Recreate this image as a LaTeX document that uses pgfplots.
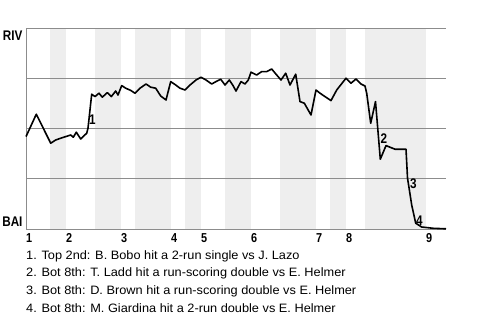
\documentclass[border=0pt]{standalone}
\usepackage{pgfplots}
\pgfplotsset{compat=1.18}
\usepackage{fontspec}
\setmainfont{Liberation Sans}[FakeStretch=1.05]
\newfontfamily\cb[FakeStretch=0.84]{Liberation Sans Bold}
\definecolor{band}{RGB}{238,238,238}
\definecolor{gridc}{RGB}{140,140,140}
\begin{document}
\begin{tikzpicture}[x=1bp,y=1bp]
\useasboundingbox (0,0) rectangle (480,320);
\begin{axis}[
  at={(26bp,91bp)}, anchor=south west,
  scale only axis, width=420bp, height=201bp,
  xmin=0, xmax=420, ymin=-0.5, ymax=100,
  axis line style={draw=none},
  major tick length=0pt,
  xtick={0,40,95,145,175,225,290,320,400},
  xticklabels={1,2,3,4,5,6,7,8,9},
  xticklabel style={anchor=north west, inner sep=0pt, yshift=-4.3bp, font=\cb\fontsize{13}{14}\selectfont},
  ytick={3.2,96.3},
  yticklabels={BAI,RIV},
  yticklabel style={anchor=east, inner sep=0pt, xshift=-3.3bp, font=\cb\fontsize{14}{15}\selectfont},
  clip=false,
]
% half-inning bands (bottom halves)
\addplot[draw=none, fill=band] coordinates {(24,-0.5)(40,-0.5)(40,100)(24,100)} -- cycle;
\addplot[draw=none, fill=band] coordinates {(69,-0.5)(95,-0.5)(95,100)(69,100)} -- cycle;
\addplot[draw=none, fill=band] coordinates {(109,-0.5)(145,-0.5)(145,100)(109,100)} -- cycle;
\addplot[draw=none, fill=band] coordinates {(159,-0.5)(175,-0.5)(175,100)(159,100)} -- cycle;
\addplot[draw=none, fill=band] coordinates {(199,-0.5)(225,-0.5)(225,100)(199,100)} -- cycle;
\addplot[draw=none, fill=band] coordinates {(254,-0.5)(290,-0.5)(290,100)(254,100)} -- cycle;
\addplot[draw=none, fill=band] coordinates {(304,-0.5)(320,-0.5)(320,100)(304,100)} -- cycle;
\addplot[draw=none, fill=band] coordinates {(339,-0.5)(400,-0.5)(400,100)(339,100)} -- cycle;
% grid lines
\addplot[gridc, line width=0.9bp] coordinates {(0,100)(420,100)};
\addplot[gridc, line width=0.9bp] coordinates {(0,75)(420,75)};
\addplot[gridc, line width=0.9bp] coordinates {(0,50)(420,50)};
\addplot[gridc, line width=0.9bp] coordinates {(0,25)(420,25)};
\addplot[gridc, line width=0.9bp] coordinates {(0,-0.5)(420,-0.5)};
\addplot[gridc, line width=0.9bp] coordinates {(0,-0.5)(0,100)};
% win probability
\addplot[black, line width=1.6bp, line join=round] table {
X Y
0 45.7
10.3 56.9
24.7 42.4
29.7 44
34.7 44.9
39.7 45.7
44.7 46.5
47.3 45.4
50.3 47.9
54.7 44.5
60.7 47.4
62 49.9
65.7 66.9
69 65.7
73 67.4
76.3 65.4
81.3 67.7
85.3 65.7
89.7 68.5
92 66.5
95.7 71.2
99.7 69.9
104.7 68.8
109 67.4
114 69.9
120 72
124.7 70.4
129.7 69.9
134.7 66
140 64
144.7 73.2
149.7 71.5
154 69.9
159 69
164 71.5
170 74
175 75.4
180 74
185.7 72
190 73.2
194.7 74.4
199 71.5
203.3 74
206.7 71.5
210 68.5
215 73.2
219 72
222.3 74
225 77.9
230.7 76.5
235.7 78.2
240.7 78.2
245.7 79.5
250.7 76.5
255 74
259.7 77.4
264 71.5
269.7 76.9
274 63.2
278.3 62.4
285 56.5
290 69
294 67.4
305 63.7
310.7 69
320 74.9
325 72.4
330 74.5
335 72
339 71
340.7 67.4
344.7 52.4
349.5 63.2
354.3 34.4
360 41.2
369 39.4
380 39.4
381.5 25
385.7 11.5
389.7 2.4
395.7 0.5
407.3 -0.15
420 -0.4
};
\node[font=\cb\fontsize{14}{15}\selectfont, inner sep=0pt] at (axis cs:66.3,54) {1};
\node[font=\cb\fontsize{14}{15}\selectfont, inner sep=0pt] at (axis cs:358,44.8) {2};
\node[font=\cb\fontsize{14}{15}\selectfont, inner sep=0pt] at (axis cs:387.3,22) {3};
\node[font=\cb\fontsize{14}{15}\selectfont, inner sep=0pt] at (axis cs:393.3,3.6) {4};
\end{axis}
\begin{scope}[every node/.style={anchor=base west, inner sep=0pt, font=\fontsize{12.2}{14}\selectfont}]
\node at (26,60.7) {1. Top 2nd: B. Bobo hit a 2-run single vs J. Lazo};
\node at (26,43.3) {2. Bot 8th: T. Ladd hit a run-scoring double vs E. Helmer};
\node at (26,25.7) {3. Bot 8th: D. Brown hit a run-scoring double vs E. Helmer};
\node at (26,7.7) {4. Bot 8th: M. Giardina hit a 2-run double vs E. Helmer};
\end{scope}
\end{tikzpicture}
\end{document}
